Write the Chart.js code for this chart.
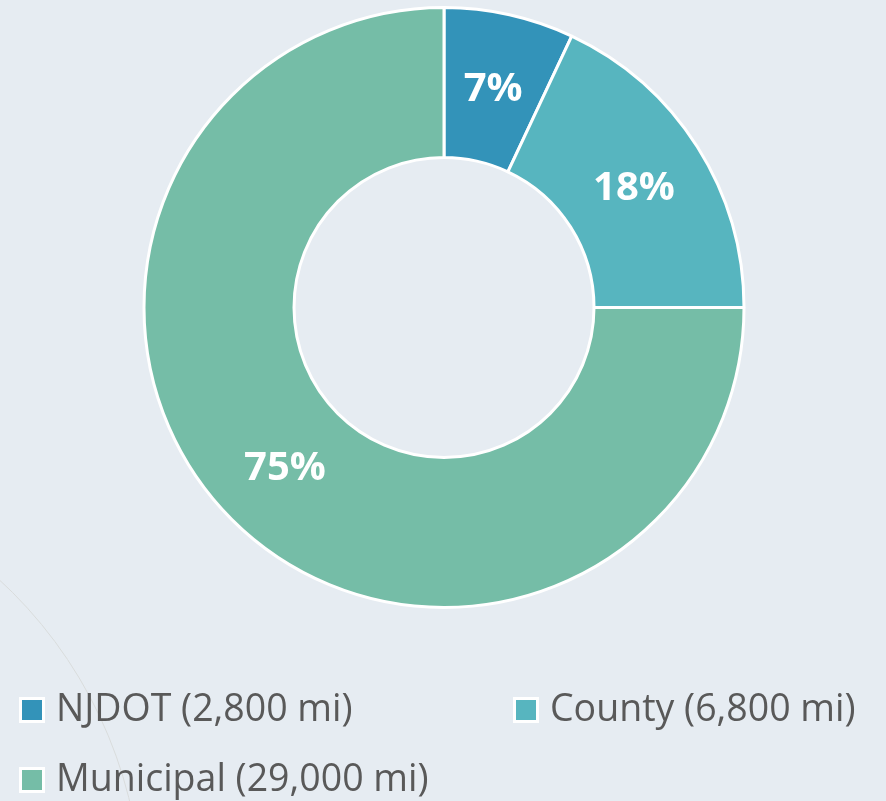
<!DOCTYPE html>
<html>
<head>
<meta charset="utf-8">
<script src="https://cdn.jsdelivr.net/npm/chart.js@4"></script>
<style>
  html, body { margin: 0; padding: 0; background: #E6ECF2; }
  #wrap { position: relative; width: 886px; height: 801px; }
</style>
</head>
<body>
<div id="wrap"><canvas id="canRoads" width="886" height="801"></canvas></div>
<script>
'use strict'

// data
const categories = ['NJDOT (2,800 mi)', 'County (6,800 mi)', 'Municipal (29,000 mi)'];
const sharePct = [7, 18, 75];
const sliceColors = ['#3393B9', '#57B5BF', '#75BDA7'];

// legend placement (x, y-center) per item
const legendSpots = [[19, 710], [513, 710], [19, 780]];

// faint background arc (decoration)
let bgArcPlugin = {
	id: 'bgArc',
	beforeDraw: function (chart) {
		const ctx = chart.ctx;
		ctx.save();
		ctx.strokeStyle = '#D9DCDC';
		ctx.lineWidth = 1;
		ctx.beginPath();
		ctx.arc(-300, 905, 442, -Math.PI / 2, 0);
		ctx.stroke();
		ctx.restore();
	}
};

// percent labels on each slice
let sliceLabelPlugin = {
	id: 'sliceLabels',
	afterDatasetsDraw: function (chart) {
		const ctx = chart.ctx;
		const meta = chart.getDatasetMeta(0);
		ctx.save();
		ctx.fillStyle = '#FFFFFF';
		ctx.font = 'bold 40px "Open Sans", sans-serif';
		ctx.textAlign = 'center';
		ctx.textBaseline = 'middle';
		meta.data.forEach((arc, i) => {
			const p = arc.tooltipPosition();
			ctx.fillText(sharePct[i] + '%', p.x, p.y + 2);
		});
		ctx.restore();
	}
};

// legend drawn by hand to keep the two-column layout
let legendPlugin = {
	id: 'customLegend',
	afterDraw: function (chart) {
		const ctx = chart.ctx;
		ctx.save();
		ctx.font = '37.5px "Open Sans", sans-serif';
		ctx.textBaseline = 'middle';
		categories.forEach((c, i) => {
			const [x, y] = legendSpots[i];
			ctx.fillStyle = '#FFFFFF';
			ctx.fillRect(x, y - 13, 26, 26);
			ctx.fillStyle = sliceColors[i];
			ctx.fillRect(x + 3, y - 10, 20, 20);
			ctx.fillStyle = '#595959';
			ctx.fillText(c, x + 37, y);
		});
		ctx.restore();
	}
};

const ctxRoads = document.getElementById('canRoads').getContext('2d');
let myChartRoads = new Chart(ctxRoads, {
	type: 'doughnut',
	data: {
		labels: categories,
		datasets: [{
			data: sharePct,
			backgroundColor: sliceColors,
			borderColor: '#FFFFFF',
			borderWidth: 3,
			hoverOffset: 0
		}]
	},
	options: {
		responsive: false,
		animation: false,
		cutout: '50%',
		layout: { padding: { top: 6, bottom: 192, left: 2, right: 0 } },
		plugins: {
			legend: { display: false },
			tooltip: { enabled: false }
		}
	},
	plugins: [bgArcPlugin, sliceLabelPlugin, legendPlugin]
});
</script>
</body>
</html>
